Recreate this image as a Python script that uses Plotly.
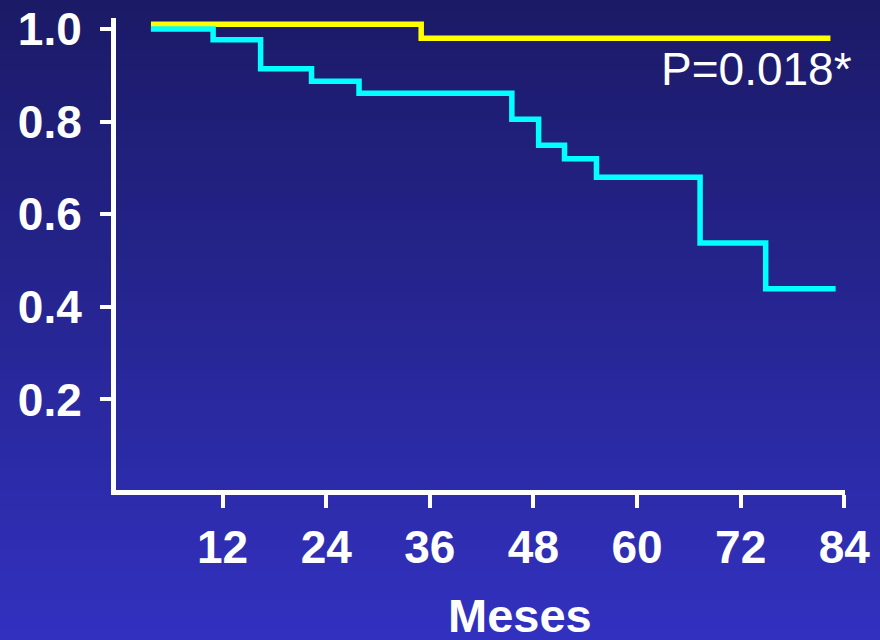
import plotly.graph_objects as go

# ---- data ----
months_cyan = [3.7, 10.9, 16.4, 22.3, 27.8, 45.5, 48.6, 51.6, 55.3, 67.3, 74.9, 83.0]
surv_cyan = [1.0, 0.977, 0.914, 0.887, 0.861, 0.805, 0.749, 0.720, 0.680, 0.538, 0.439, 0.439]
months_yellow = [3.7, 35.0, 82.4]
surv_yellow = [1.01, 0.98, 0.98]
x_ticks = [12, 24, 36, 48, 60, 72, 84]
y_ticks = [0.2, 0.4, 0.6, 0.8, 1.0]
y_tick_labels = ["0.2", "0.4", "0.6", "0.8", "1.0"]
p_text = "P=0.018*"
x_title = "Meses"

W, H = 880, 640
ML, MR, MT, MB = 116, 35, 18, 150
PW, PH = W - ML - MR, H - MT - MB

# pixel scales (month -> px, survival -> px)
X0PX, XS = 119.0, 8.634
Y0PX, YS = 492.0, 463.0
x_range = [(ML - X0PX) / XS, (W - MR - X0PX) / XS]
y_range = [(Y0PX - (H - MB)) / YS, (Y0PX - MT) / YS]

def px_to_paper_x(px):
    return (px - ML) / PW

def px_to_paper_y(py):
    return (H - MB - py) / PH

FONT = "Liberation Sans, Arial, sans-serif"

fig = go.Figure()
fig.add_trace(go.Scatter(x=months_yellow, y=surv_yellow, mode="lines",
                         line=dict(color="#FFFF00", width=5.5, shape="hv"),
                         hoverinfo="skip", showlegend=False))
fig.add_trace(go.Scatter(x=months_cyan, y=surv_cyan, mode="lines",
                         line=dict(color="#00FFFF", width=5.5, shape="hv"),
                         hoverinfo="skip", showlegend=False))

# background gradient strips
shapes = []
top = (27, 26, 102)
bot = (50, 49, 192)
n = 64
for i in range(n):
    t = (i + 0.5) / n
    c = tuple(round(top[k] + (bot[k] - top[k]) * t) for k in range(3))
    y0px = H * i / n
    y1px = H * (i + 1) / n + 1
    shapes.append(dict(type="rect", xref="paper", yref="paper",
                       x0=px_to_paper_x(-5), x1=px_to_paper_x(W + 5),
                       y0=px_to_paper_y(y1px), y1=px_to_paper_y(y0px),
                       fillcolor="rgb(%d,%d,%d)" % c, line=dict(width=0),
                       layer="below"))

fig.update_layout(
    width=W, height=H,
    margin=dict(l=ML, r=MR, t=MT, b=MB, pad=0, autoexpand=False),
    paper_bgcolor="rgb(38,37,146)", plot_bgcolor="rgba(0,0,0,0)",
    shapes=shapes,
    xaxis=dict(range=x_range, tickvals=x_ticks, ticks="outside", ticklen=13,
               tickwidth=4, tickcolor="white", showline=True, linewidth=5,
               linecolor="white", showgrid=False, zeroline=False, automargin=False,
               tickfont=dict(family=FONT, size=46, color="white", weight="bold")),
    yaxis=dict(range=y_range, tickvals=y_ticks, ticktext=y_tick_labels,
               ticks="outside", ticklen=11, tickwidth=4, tickcolor="white",
               showline=True, linewidth=5, linecolor="white", showgrid=False,
               zeroline=False, automargin=False, ticklabelstandoff=9,
               tickfont=dict(family=FONT, size=46, color="white", weight="bold")),
    annotations=[
        dict(text=p_text, xref="paper", yref="paper", x=px_to_paper_x(854),
             y=px_to_paper_y(69), xanchor="right", yanchor="middle",
             showarrow=False, font=dict(family=FONT, size=46, color="white")),
        dict(text=x_title, xref="paper", yref="paper", x=px_to_paper_x(519.5),
             y=px_to_paper_y(615), xanchor="center", yanchor="middle",
             showarrow=False,
             font=dict(family=FONT, size=47, color="white", weight="bold")),
    ],
)

fig.write_html("out.html", config={"displayModeBar": False, "staticPlot": True},
               post_script="document.body.style.margin='0';document.body.style.overflow='hidden';")
